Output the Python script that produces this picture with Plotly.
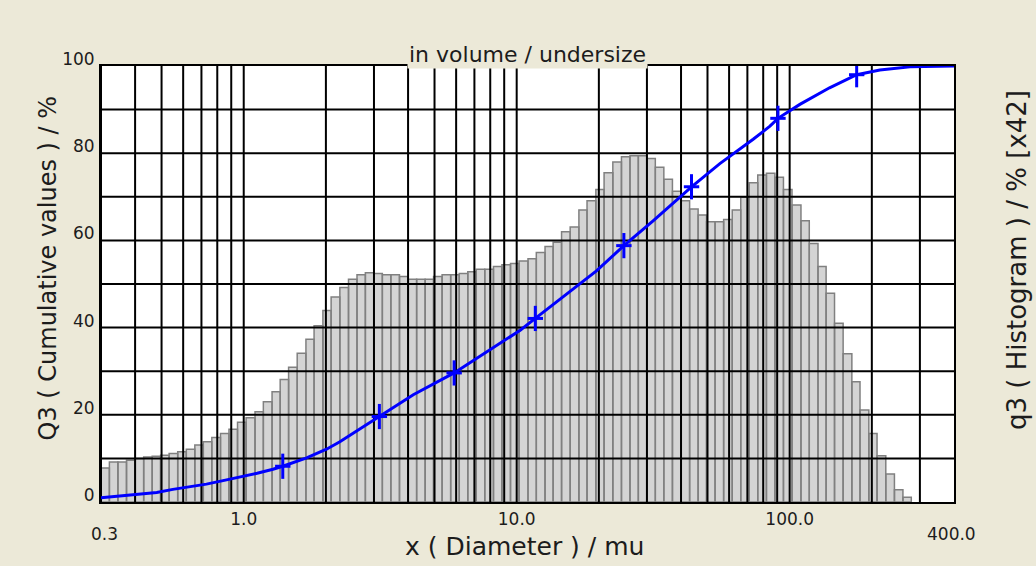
import math
import plotly.graph_objects as go

# Particle-size classes (µm), log-equidistant, 32 classes per decade
class_edges = [
    0.300, 0.322, 0.346, 0.372, 0.400, 0.430, 0.462, 0.496, 0.533, 0.573,
    0.616, 0.662, 0.711, 0.764, 0.822, 0.883, 0.949, 1.02, 1.10, 1.18,
    1.27, 1.36, 1.46, 1.57, 1.69, 1.81, 1.95, 2.09, 2.25, 2.42,
    2.60, 2.79, 3.00, 3.22, 3.46, 3.72, 4.00, 4.30, 4.62, 4.96,
    5.33, 5.73, 6.16, 6.62, 7.11, 7.64, 8.22, 8.83, 9.49, 10.2,
    11.0, 11.8, 12.7, 13.6, 14.6, 15.7, 16.9, 18.1, 19.5, 20.9,
    22.5, 24.2, 26.0, 27.9, 30.0, 32.2, 34.6, 37.2, 40.0, 43.0,
    46.2, 49.6, 53.3, 57.3, 61.6, 66.2, 71.1, 76.4, 82.2, 88.3,
    94.9, 102, 110, 118, 127, 136, 146, 157, 169, 181,
    195, 209, 225, 242, 260, 279,
]

# Density distribution q3 per class (%), displayed x42
q3_hist = [
    7.8, 9.2, 9.2, 9.6, 10.0, 10.3, 10.5, 10.7, 11.1, 11.5,
    12.1, 13.1, 13.8, 14.8, 15.7, 16.7, 18.3, 19.3, 20.7, 23.0,
    25.3, 28.1, 30.9, 34.1, 37.3, 40.4, 43.9, 47.0, 49.2, 51.1,
    52.1, 52.6, 52.4, 52.1, 52.1, 51.7, 51.1, 51.1, 51.1, 51.7,
    52.1, 52.1, 52.4, 52.8, 53.4, 53.4, 54.0, 54.4, 54.7, 55.3,
    55.8, 57.2, 58.6, 59.6, 62.0, 63.1, 67.0, 69.1, 71.7, 75.5,
    78.0, 79.2, 79.4, 79.4, 78.8, 76.8, 74.0, 71.3, 69.1, 67.2,
    65.8, 64.3, 64.3, 64.8, 67.0, 69.9, 73.2, 75.0, 75.4, 74.5,
    71.7, 68.1, 64.5, 59.3, 54.0, 47.9, 41.0, 34.0, 27.6, 21.1,
    15.7, 10.6, 6.4, 2.8, 1.1,
]

# Cumulative distribution Q3 (%)
cum_x = [0.30, 0.36, 0.42, 0.48, 0.55, 0.635, 0.73, 0.84, 0.97, 1.12,
         1.28, 1.39, 1.70, 2.01, 2.25, 3.14, 4.18, 5.9, 10.3, 11.7,
         14.8, 19.6, 24.7, 31.6, 43.7, 55.5, 73.5, 84.7, 90.6, 109,
         140, 176, 214, 276, 400]
cum_Q3 = [1.0, 1.4, 1.8, 2.2, 2.9, 3.5, 4.1, 4.9, 5.7, 6.6,
          7.5, 8.2, 10.1, 12.1, 13.8, 19.6, 24.6, 29.6, 39.4, 42.1,
          47.0, 53.0, 58.8, 64.5, 72.3, 77.6, 83.2, 86.2, 88.0, 91.2,
          95.0, 98.0, 99.1, 99.8, 100.0]
# Points of the cumulative curve that carry a "+" marker
marked_points = [11, 15, 17, 19, 22, 24, 28, 31]

x_ticks = [1, 10, 100]
x_tick_text = ["1.0", "10.0", "100.0"]
x_end_labels = ["0.3", "400.0"]
y_ticks = [0, 20, 40, 60, 80, 100]

X_MIN, X_MAX = 0.3, 400.0
BG = "#ECE9D8"
FONT = "DejaVu Sans"
TXT = "#1c1c1c"
BLUE = "#0000FF"

fig = go.Figure()

# Histogram classes as outlined rectangles
hx, hy = [], []
for x0, x1, h in zip(class_edges[:-1], class_edges[1:], q3_hist):
    hx += [x0, x0, x1, x1, x0, None]
    hy += [0, h, h, 0, 0, None]
fig.add_trace(go.Scatter(
    x=hx, y=hy, mode="lines", fill="toself", fillcolor="#D4D4D4",
    line=dict(color="#808080", width=1.5), hoverinfo="skip"))

# Log grid drawn on top of the histogram
gx, gy = [], []
for d in range(-1, 3):
    for m in range(1, 10):
        v = m * 10 ** d
        if X_MIN < v < X_MAX:
            gx += [v, v, None]
            gy += [0, 100, None]
for yv in range(10, 100, 10):
    gx += [X_MIN, X_MAX, None]
    gy += [yv, yv, None]
fig.add_trace(go.Scatter(x=gx, y=gy, mode="lines",
                         line=dict(color="black", width=2), hoverinfo="skip"))

# Cumulative curve with markers
fig.add_trace(go.Scatter(x=cum_x, y=cum_Q3, mode="lines",
                         line=dict(color=BLUE, width=3)))
mx = [cum_x[i] for i in marked_points]
my = [cum_Q3[i] for i in marked_points]
fig.add_trace(go.Scatter(x=mx, y=my, mode="markers",
                         marker=dict(symbol="line-ns", size=18,
                                     line=dict(color=BLUE, width=3))))
fig.add_trace(go.Scatter(x=mx, y=my, mode="markers",
                         marker=dict(symbol="line-ew", size=11,
                                     line=dict(color=BLUE, width=3))))

fig.update_xaxes(
    type="log", range=[math.log10(X_MIN), math.log10(X_MAX)],
    showgrid=False, zeroline=False, showline=True, mirror=True,
    linecolor="black", linewidth=2, ticks="",
    tickvals=x_ticks, ticktext=x_tick_text, ticklabelstandoff=1,
    tickfont=dict(family=FONT, size=17, color=TXT))
fig.update_yaxes(
    range=[0, 100], showgrid=False, zeroline=False, showline=True,
    mirror=True, linecolor="black", linewidth=2, ticks="",
    tickvals=y_ticks, ticklabelshift=-7, ticklabelstandoff=1,
    tickfont=dict(family=FONT, size=17, color=TXT))

annotations = [
    dict(text="in volume / undersize", xref="paper", yref="paper",
         x=0.5, y=1, xanchor="center", yanchor="bottom", yshift=-3,
         showarrow=False, bgcolor=BG, borderpad=1,
         font=dict(family=FONT, size=22, color=TXT)),
    dict(text=x_end_labels[0], xref="paper", yref="paper", x=0, y=0,
         xanchor="center", yanchor="middle", xshift=3, yshift=-32,
         showarrow=False, font=dict(family=FONT, size=17, color=TXT)),
    dict(text=x_end_labels[1], xref="paper", yref="paper", x=1, y=0,
         xanchor="center", yanchor="middle", xshift=-3, yshift=-32,
         showarrow=False, font=dict(family=FONT, size=17, color=TXT)),
    dict(text="x ( Diameter ) / mu", xref="paper", yref="paper",
         x=0.497, y=0, xanchor="center", yanchor="middle", yshift=-44,
         showarrow=False, font=dict(family=FONT, size=25, color=TXT)),
    dict(text="Q3 ( Cumulative values ) / %", xref="paper", yref="paper",
         x=0, y=0.5356, xanchor="center", yanchor="middle", xshift=-53,
         textangle=-90, showarrow=False,
         font=dict(family=FONT, size=24, color=TXT)),
    dict(text="q3 ( Histogram ) / % [x42]", xref="paper", yref="paper",
         x=1, y=0.555, xanchor="center", yanchor="middle", xshift=63,
         textangle=-90, showarrow=False,
         font=dict(family=FONT, size=26, color=TXT)),
]

fig.update_layout(
    width=1036, height=566,
    margin=dict(l=101, r=82, t=66, b=64),
    paper_bgcolor=BG, plot_bgcolor="white",
    showlegend=False, annotations=annotations,
)

fig.write_html("out.html")
